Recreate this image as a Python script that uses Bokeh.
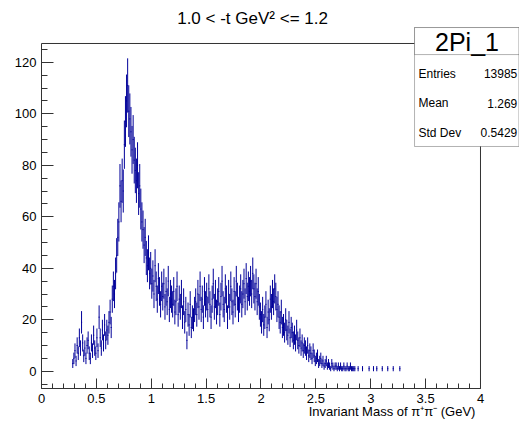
import numpy as np
from bokeh.plotting import figure
from bokeh.models import Range1d, FixedTicker, Label, BoxAnnotation, ColumnDataSource
from bokeh.embed import file_html
from bokeh.resources import INLINE

# ---------------- data ----------------
bin_lo = 0.28
bin_width = 0.01
counts = (
    [3, 5]
    + [8, 4, 10, 7, 13, 9, 19, 11, 6, 9]            # 0.30
    + [5, 10, 12, 7, 5, 11, 8, 14, 9, 7]            # 0.40
    + [13, 8, 21, 13, 9, 16, 11, 18, 12, 16]        # 0.50
    + [14, 19, 23, 17, 28, 33, 30, 38, 45, 52]      # 0.60
    + [58, 72, 66, 74, 70, 88, 97, 105, 111, 101]   # 0.70
    + [98, 93, 86, 90, 82, 78, 74, 80, 69, 72]      # 0.80
    + [63, 58, 55, 49, 52, 44, 41, 46, 38, 40]      # 0.90
    + [34, 37, 30, 41, 33, 28, 36, 31, 26, 33]      # 1.00
    + [29, 34, 25, 31, 27, 35, 24, 30, 28, 26]      # 1.10
    + [31, 23, 27, 33, 22, 28, 25, 30, 21, 27]      # 1.20
    + [19, 24, 12, 22, 18, 26, 17, 21, 20, 24]      # 1.30
    + [27, 22, 30, 25, 33, 24, 28, 21, 31, 26]      # 1.40
    + [29, 24, 32, 26, 21, 28, 34, 25, 30, 23]      # 1.50
    + [27, 31, 22, 29, 35, 26, 24, 32, 28, 21]      # 1.60
    + [30, 25, 33, 27, 23, 31, 26, 35, 29, 24]      # 1.70
    + [28, 32, 26, 30, 34, 27, 36, 29, 33, 31]      # 1.80
    + [35, 30, 38, 32, 29, 34, 27, 31, 25, 22]      # 1.90
    + [19, 24, 18, 21, 26, 17, 23, 20, 28, 25]      # 2.00
    + [30, 27, 32, 29, 24, 26, 21, 19, 23, 17]      # 2.10
    + [18, 15, 20, 16, 14, 19, 13, 17, 15, 12]      # 2.20
    + [14, 11, 16, 12, 10, 13, 9, 11, 8, 10]        # 2.30
    + [9, 7, 10, 6, 8, 7, 5, 8, 6, 4]               # 2.40
    + [5, 6, 3, 4, 5, 3, 4, 2, 3, 4]                # 2.50
    + [2, 3, 2, 1, 3, 2, 1, 2, 2, 1]                # 2.60
    + [2, 1, 2, 1, 1, 2, 1, 1, 2, 1]                # 2.70
    + [1, 2, 1, 1, 1, 1, 0, 0, 1, 0]                # 2.80
    + [0, 0, 1, 0, 0, 0, 0, 0, 1, 0]                # 2.90
    + [0, 0, 1, 0, 0, 1, 0, 0, 0, 0]                # 3.00
    + [1, 0, 0, 0, 0, 1, 0, 0, 0, 0]                # 3.10
    + [1, 0, 0, 0, 0, 0, 1, 0, 0, 0]                # 3.20
)

x_ticks = [0, 0.5, 1, 1.5, 2, 2.5, 3, 3.5, 4]
x_tick_labels = ["0", "0.5", "1", "1.5", "2", "2.5", "3", "3.5", "4"]
x_minor_ticks = [i / 10 for i in range(0, 41)]
y_ticks = [0, 20, 40, 60, 80, 100, 120]
y_minor_ticks = list(range(-5, 130, 5))

title_text = "1.0 < -t GeV\u00b2 <= 1.2"
x_label = "Invariant Mass of \u03c0\u207a\u03c0\u207b (GeV)"
stats_name = "2Pi_1"
stats_keys = ["Entries", "Mean", "Std Dev"]
stats_vals = ["13985", "1.269", "0.5429"]

# ---------------- derived ----------------
c = np.array(counts, dtype=float)
lo = bin_lo + bin_width * np.arange(len(c))
hi = lo + bin_width
mid = (lo + hi) / 2
err = np.sqrt(c)
keep = c > 0
src = ColumnDataSource(dict(
    lo=lo[keep], hi=hi[keep], mid=mid[keep], v=c[keep],
    v0=(c - err)[keep], v1=(c + err)[keep],
))

FONT = "Liberation Sans"
COLOR = "#000099"
FRAME = "#333333"
X0, X1 = 0, 4          # data frame in x
Y0, Y1 = -6.7, 127.3   # data frame in y

p = figure(width=519, height=424, output_backend="svg", toolbar_location=None,
           x_range=Range1d(-0.3736, 4.3554), y_range=Range1d(-20.68, 144.0),
           min_border=0)
p.background_fill_color = "white"
p.border_fill_color = "white"
p.xgrid.visible = False
p.ygrid.visible = False
p.outline_line_color = None

# plot frame
p.quad(left=[X0], right=[X1], bottom=[Y0], top=[Y1], fill_color=None,
       line_color=FRAME, line_width=1)

p.segment(x0="mid", x1="mid", y0="v0", y1="v1", source=src, line_color=COLOR, line_width=1)
p.segment(x0="lo", x1="hi", y0="v", y1="v", source=src, line_color=COLOR, line_width=1)

xa = p.xaxis[0]
xa.fixed_location = Y0
xa.ticker = FixedTicker(ticks=x_ticks, minor_ticks=x_minor_ticks)
xa.major_label_overrides = {t: l for t, l in zip(x_ticks, x_tick_labels)}
xa.major_tick_in = 10
xa.major_tick_out = 0
xa.minor_tick_in = 5
xa.minor_tick_out = 0
xa.major_label_standoff = 5
xa.major_label_text_font = FONT
xa.major_label_text_font_size = "13px"
xa.major_label_text_color = "black"
xa.axis_line_color = None
xa.major_tick_line_color = FRAME
xa.minor_tick_line_color = FRAME

ya = p.yaxis[0]
ya.fixed_location = X0
ya.ticker = FixedTicker(ticks=y_ticks, minor_ticks=y_minor_ticks)
ya.major_tick_in = 12
ya.major_tick_out = 0
ya.minor_tick_in = 6
ya.minor_tick_out = 0
ya.major_label_standoff = 5
ya.major_label_text_font = FONT
ya.major_label_text_font_size = "13px"
ya.major_label_text_color = "black"
ya.axis_line_color = None
ya.major_tick_line_color = FRAME
ya.minor_tick_line_color = FRAME

# title
p.add_layout(Label(x=1.923, y=137.0, text=title_text, text_align="center", text_baseline="middle",
                   text_font=FONT, text_font_size="17px", text_color="black"))
# x axis label
p.add_layout(Label(x=3.954, y=-15.6, text=x_label, text_align="right", text_baseline="middle",
                   text_font=FONT, text_font_size="13px", text_color="black"))

# stats box
p.add_layout(BoxAnnotation(left=3.399, right=4.35, top=133.5, bottom=87.3,
                           fill_color="white", fill_alpha=1.0, line_color="black", line_width=1,
                           level="overlay"))
p.add_layout(BoxAnnotation(left=3.399, right=4.35, top=133.5, bottom=123.0,
                           fill_color="white", fill_alpha=1.0, line_color="black", line_width=1,
                           level="overlay"))
p.add_layout(Label(x=3.877, y=128.0, text=stats_name, text_align="center", text_baseline="middle",
                   text_font=FONT, text_font_size="25px", text_color="black", level="overlay"))
for key, val, yy in zip(stats_keys, stats_vals, [115.6, 104.0, 92.7]):
    p.add_layout(Label(x=3.435, y=yy, text=key, text_align="left", text_baseline="middle",
                       text_font=FONT, text_font_size="12px", text_color="black", level="overlay"))
    p.add_layout(Label(x=4.335, y=yy, text=val, text_align="right", text_baseline="middle",
                       text_font=FONT, text_font_size="12px", text_color="black", level="overlay"))

open("out.html", "w").write(file_html(p, INLINE))
